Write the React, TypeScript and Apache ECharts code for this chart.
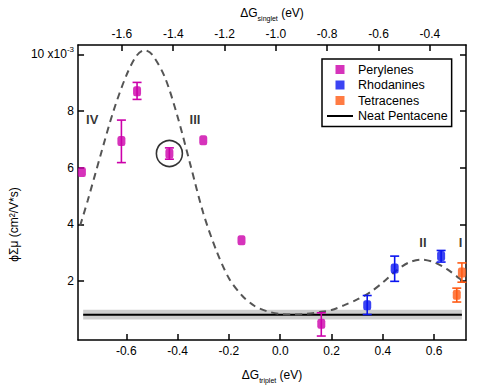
import React, { useEffect, useRef } from "react";
import * as echarts from "echarts";

const FONT = "Liberation Sans, Arial, Helvetica, sans-serif";

// Data (x = ΔG_triplet in eV, y = φΣμ in 1e-3 cm²/V*s)
const peryleneX = [-0.773, -0.619, -0.558, -0.432, -0.3, -0.151, 0.16];
const peryleneY = [5.85, 6.94, 8.7, 6.5, 6.97, 3.44, 0.49];
const peryleneLo = [null, 6.18, 8.41, 6.3, null, null, 0.06];
const peryleneHi = [null, 7.68, 9.01, 6.7, null, null, 0.88];

const rhodanineX = [0.339, 0.446, 0.627];
const rhodanineY = [1.15, 2.44, 2.88];
const rhodanineLo = [0.82, 1.99, 2.67];
const rhodanineHi = [1.49, 2.88, 3.08];

const tetraceneX = [0.708, 0.688];
const tetraceneY = [2.3, 1.52];
const tetraceneLo = [1.96, 1.26];
const tetraceneHi = [2.64, 1.75];

const pentaceneX = [-0.768, 0.708];
const pentaceneY = [0.81, 0.81];
const pentaceneBand = [0.64, 0.99];

const curveX = [-0.78, -0.75, -0.7, -0.65, -0.6, -0.56, -0.53, -0.5, -0.45, -0.4, -0.35, -0.3, -0.25, -0.2, -0.15, -0.1, -0.05, 0.0, 0.05, 0.1, 0.15, 0.2, 0.25, 0.3, 0.35, 0.4, 0.45, 0.5, 0.55, 0.6, 0.65, 0.7, 0.72];
const curveY = [3.95, 4.85, 6.45, 8.0, 9.25, 9.95, 10.15, 10.0, 9.2, 7.8, 6.1, 4.4, 3.1, 2.1, 1.5, 1.12, 0.93, 0.84, 0.82, 0.84, 0.9, 0.98, 1.15, 1.35, 1.6, 1.95, 2.35, 2.65, 2.76, 2.66, 2.42, 2.08, 1.95];

const regionLabels = ["IV", "III", "II", "I"];
const regionX = [-0.733, -0.332, 0.556, 0.703];
const regionY = [7.7, 7.7, 3.37, 3.37];

const highlightX = [-0.432];
const highlightY = [6.5];

const bottomTicks = [-0.6, -0.4, -0.2, 0.0, 0.2, 0.4, 0.6];
const topTicks = [-1.6, -1.4, -1.2, -1.0, -0.8, -0.6, -0.4];
const yTicks = [2, 4, 6, 8, 10];

const C_PER = "#cc00aa";
const C_RHO = "#0a14f0";
const C_TET = "#ff5a14";

const SQUARE = "path://M0,0H10V10H0Z";
const LINE_ICON = "path://M0,0H26V2H0Z";

function pts(xs: number[], ys: number[]) {
  return xs.map((x, i) => [x, ys[i]]);
}
function errs(xs: number[], lo: (number | null)[], hi: (number | null)[]) {
  const out: number[][] = [];
  xs.forEach((x, i) => {
    if (lo[i] != null && hi[i] != null) out.push([x, lo[i] as number, hi[i] as number]);
  });
  return out;
}

function errorSeries(data: number[][], color: string) {
  return {
    type: "custom",
    xAxisIndex: 0,
    yAxisIndex: 0,
    silent: true,
    z: 3,
    encode: { x: 0, y: [1, 2] },
    data,
    renderItem: (params: any, api: any) => {
      const x = api.value(0);
      const lo = api.coord([x, api.value(1)]);
      const hi = api.coord([x, api.value(2)]);
      const hw = 4.5;
      const style = { stroke: color, lineWidth: 1.6 };
      return {
        type: "group",
        children: [
          { type: "line", shape: { x1: lo[0], y1: lo[1], x2: hi[0], y2: hi[1] }, style },
          { type: "line", shape: { x1: lo[0] - hw, y1: lo[1], x2: lo[0] + hw, y2: lo[1] }, style },
          { type: "line", shape: { x1: hi[0] - hw, y1: hi[1], x2: hi[0] + hw, y2: hi[1] }, style },
        ],
      };
    },
  };
}

const axisNameRich = {
  a: { fontSize: 12, color: "#000", fontFamily: FONT },
  s: { fontSize: 7, color: "#000", fontFamily: FONT, padding: [11, 0, 0, 0], verticalAlign: "bottom" },
};

function xAxisCommon(ticks: number[]) {
  return {
    type: "value",
    splitNumber: 7,
    splitLine: { show: false },
    axisLine: { show: true, onZero: false, lineStyle: { color: "#000", width: 1.5 } },
    axisTick: { show: true, inside: true, length: 6, customValues: ticks, lineStyle: { color: "#000", width: 1.5 } },
    axisLabel: {
      show: true,
      customValues: ticks,
      margin: 5,
      fontSize: 12,
      color: "#000",
      fontFamily: FONT,
      formatter: (v: number) => v.toFixed(1),
    },
    nameLocation: "middle",
    nameTextStyle: { rich: axisNameRich },
  };
}

export default function App() {
  const ref = useRef<HTMLDivElement>(null);
  useEffect(() => {
    if (!ref.current) return;
    const chart = echarts.init(ref.current, null, { renderer: "svg" });
    const option: any = {
      animation: false,
      backgroundColor: "#fff",
      textStyle: { fontFamily: FONT },
      grid: { left: 76.7, right: 14, top: 45, bottom: 49 },
      legend: {
        orient: "vertical",
        left: 322,
        top: 59,
        itemWidth: 26,
        itemHeight: 9,
        itemGap: 2.5,
        padding: [4, 4, 4, 5],
        borderColor: "#000",
        borderWidth: 1.5,
        backgroundColor: "#fff",
        symbolKeepAspect: true,
        textStyle: { fontSize: 12.5, color: "#000", fontFamily: FONT },
        data: [
          { name: "Perylenes", icon: SQUARE },
          { name: "Rhodanines", icon: SQUARE },
          { name: "Tetracenes", icon: SQUARE },
          { name: "Neat Pentacene", icon: LINE_ICON },
        ],
      },
      xAxis: [
        {
          ...xAxisCommon(bottomTicks),
          position: "bottom",
          min: -0.788,
          max: 0.724,
          name: "{a|ΔG}{s|triplet}{a| (eV)}",
          nameGap: 26,
        },
        {
          ...xAxisCommon(topTicks),
          position: "top",
          min: -1.771,
          max: -0.259,
          name: "{a|ΔG}{s|singlet}{a| (eV)}",
          nameGap: 23,
        },
      ],
      yAxis: [
        {
          type: "value",
          position: "left",
          min: -0.08,
          max: 10.33,
          splitLine: { show: false },
          axisLine: { show: true, onZero: false, lineStyle: { color: "#000", width: 1.5 } },
          axisTick: { show: true, inside: true, length: 6, customValues: yTicks, lineStyle: { color: "#000", width: 1.5 } },
          axisLabel: {
            customValues: yTicks,
            margin: 4,
            fontSize: 12,
            color: "#000",
            fontFamily: FONT,
            formatter: (v: number) => (v === 10 ? "{a|10 x10}{sup|-3}" : "{a|" + v + "}"),
            rich: {
              a: { fontSize: 12, color: "#000", fontFamily: FONT },
              sup: { fontSize: 8, color: "#000", fontFamily: FONT, verticalAlign: "top", padding: [0, 0, 10, 0] },
            },
          },
          name: "ϕΣμ (cm²/V*s)",
          nameLocation: "middle",
          nameGap: 56,
          nameTextStyle: { fontSize: 12, color: "#000", fontFamily: FONT, padding: [0, 64, 0, 0] },
        },
        {
          type: "value",
          position: "right",
          min: -0.08,
          max: 10.33,
          splitLine: { show: false },
          axisLine: { show: true, onZero: false, lineStyle: { color: "#000", width: 1.5 } },
          axisTick: { show: true, inside: true, length: 6, customValues: yTicks, lineStyle: { color: "#000", width: 1.5 } },
          axisLabel: { show: false },
        },
      ],
      series: [
        {
          type: "custom",
          name: "band",
          silent: true,
          z: 1,
          data: [[pentaceneX[0], pentaceneX[1], pentaceneBand[0], pentaceneBand[1]]],
          encode: { x: [0, 1], y: [2, 3] },
          renderItem: (params: any, api: any) => {
            const p1 = api.coord([api.value(0), api.value(3)]);
            const p2 = api.coord([api.value(1), api.value(2)]);
            return {
              type: "rect",
              shape: { x: p1[0], y: p1[1], width: p2[0] - p1[0], height: p2[1] - p1[1] },
              style: { fill: "#cdcdcd" },
            };
          },
        },
        {
          type: "line",
          name: "Neat Pentacene",
          z: 2,
          symbol: "none",
          silent: true,
          data: pts(pentaceneX, pentaceneY),
          lineStyle: { color: "#000", width: 2 },
          itemStyle: { color: "#000" },
        },
        {
          type: "line",
          name: "curve",
          z: 2,
          symbol: "none",
          silent: true,
          smooth: 0.3,
          data: pts(curveX, curveY),
          lineStyle: { color: "#555", width: 2, type: [7, 5] },
        },
        errorSeries(errs(peryleneX, peryleneLo, peryleneHi), C_PER),
        errorSeries(errs(rhodanineX, rhodanineLo, rhodanineHi), C_RHO),
        errorSeries(errs(tetraceneX, tetraceneLo, tetraceneHi), C_TET),
        {
          type: "scatter",
          name: "Perylenes",
          z: 4,
          symbol: "roundRect",
          symbolSize: [8, 10],
          itemStyle: { color: C_PER },
          data: pts(peryleneX, peryleneY),
        },
        {
          type: "scatter",
          name: "Rhodanines",
          z: 4,
          symbol: "roundRect",
          symbolSize: [8, 10],
          itemStyle: { color: C_RHO },
          data: pts(rhodanineX, rhodanineY),
        },
        {
          type: "scatter",
          name: "Tetracenes",
          z: 4,
          symbol: "roundRect",
          symbolSize: [8, 10],
          itemStyle: { color: C_TET },
          data: pts(tetraceneX, tetraceneY),
        },
        {
          type: "scatter",
          name: "highlight",
          z: 5,
          silent: true,
          symbol: "circle",
          symbolSize: 26,
          itemStyle: { color: "rgba(0,0,0,0)", borderColor: "#000", borderWidth: 1.6 },
          data: pts(highlightX, highlightY),
        },
        {
          type: "scatter",
          name: "regions",
          z: 5,
          silent: true,
          symbolSize: 1,
          itemStyle: { color: "rgba(0,0,0,0)" },
          label: {
            show: true,
            position: "inside",
            formatter: "{b}",
            fontSize: 13,
            fontWeight: "bold",
            color: "#000",
            fontFamily: FONT,
          },
          data: regionLabels.map((n, i) => ({ name: n, value: [regionX[i], regionY[i]] })),
        },
      ],
    };
    chart.setOption(option);
    return () => chart.dispose();
  }, []);
  return (
    <div
      ref={ref}
      style={{ position: "fixed", left: 0, top: 0, width: 480, height: 389, background: "#fff" }}
    />
  );
}
